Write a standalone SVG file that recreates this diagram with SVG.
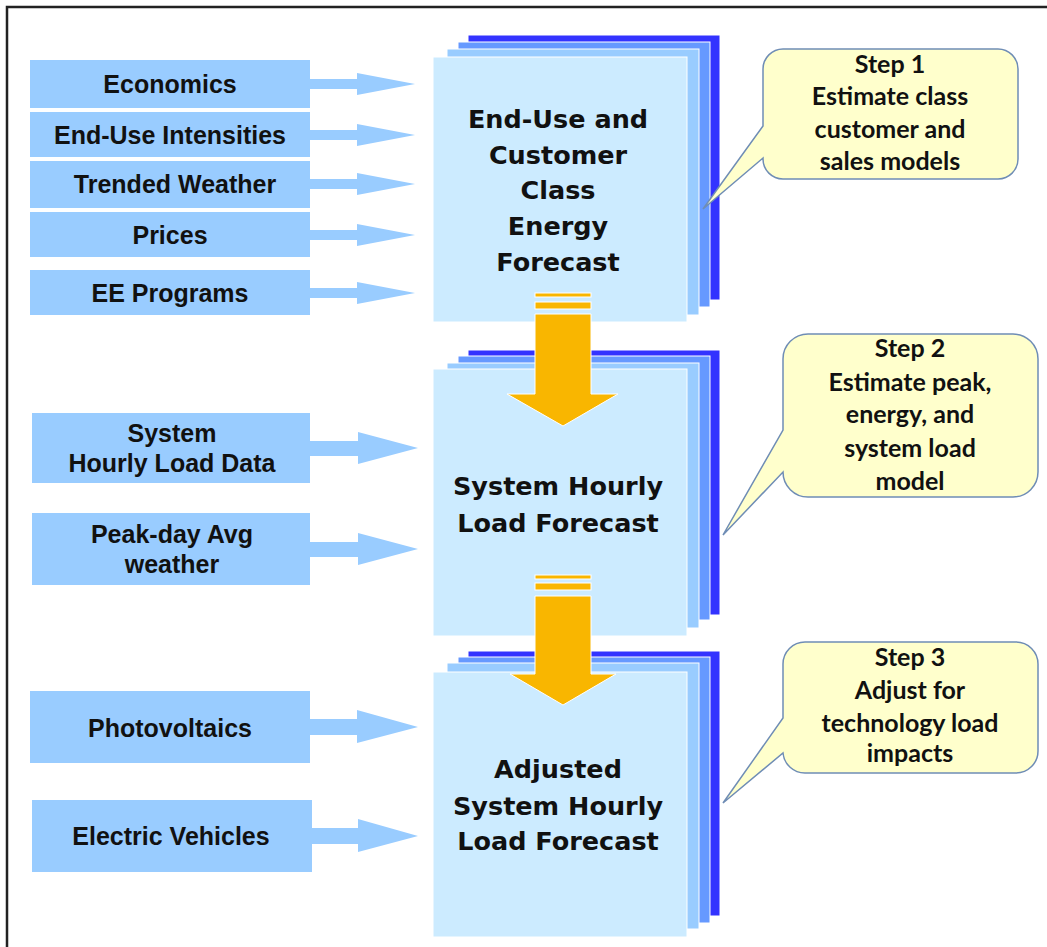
<svg xmlns="http://www.w3.org/2000/svg" width="1047" height="947" viewBox="0 0 1047 947">
<style>
.in{fill:#99CCFF}
.inT{font-family:"Liberation Sans",Arial,sans-serif;font-weight:bold;font-size:25px;fill:#111;text-anchor:middle}
.l0{fill:#CCEBFF;stroke:#fff;stroke-width:1}
.l1{fill:#99CCFF;stroke:#fff;stroke-width:1}
.l2{fill:#6699FF;stroke:#fff;stroke-width:1}
.l3{fill:#3333FF;stroke:#fff;stroke-width:1}
.mT{font-family:"DejaVu Sans",Verdana,sans-serif;font-weight:bold;font-size:25.5px;fill:#111;text-anchor:middle}
.or{fill:#F9B600;stroke:#fff;stroke-width:1}
.co{fill:#FFFFCC;stroke:#6F8DB5;stroke-width:1.5}
.cT{font-family:Lato,"Open Sans",sans-serif;font-weight:bold;font-size:25px;fill:#111;text-anchor:middle}
</style>
<rect x="0" y="0" width="1047" height="947" fill="#fff"/>
<rect x="7" y="7" width="1100" height="1000" fill="none" stroke="#222" stroke-width="2.5"/>

<g id="connectors">
  <polygon class="in" points="309,79 357,79 357,73 415,84 357,95 357,89 309,89"/>
  <polygon class="in" points="309,130 357,130 357,124 415,135 357,146 357,140 309,140"/>
  <polygon class="in" points="309,179 357,179 357,173 415,184 357,195 357,189 309,189"/>
  <polygon class="in" points="309,230 357,230 357,224 415,235 357,246 357,240 309,240"/>
  <polygon class="in" points="309,288 357,288 357,282 415,293 357,304 357,298 309,298"/>
  <polygon class="in" points="309,441 358,441 358,432 418,448 358,464 358,456 309,456"/>
  <polygon class="in" points="309,542 358,542 358,533 418,549 358,565 358,557 309,557"/>
  <polygon class="in" points="309,719 357,719 357,710 418,727 357,743 357,735 309,735"/>
  <polygon class="in" points="311,828 358,828 358,819 418,836 358,852 358,844 311,844"/>
</g>

<g id="in-economics"><rect class="in" x="30" y="60" width="280" height="48"/><text class="inT" x="170" y="93">Economics</text></g>
<g id="in-enduse"><rect class="in" x="30" y="112" width="280" height="45"/><text class="inT" x="170" y="144">End-Use Intensities</text></g>
<g id="in-weather"><rect class="in" x="30" y="161" width="280" height="47"/><text class="inT" x="175" y="193">Trended Weather</text></g>
<g id="in-prices"><rect class="in" x="30" y="212" width="280" height="45"/><text class="inT" x="170" y="244">Prices</text></g>
<g id="in-ee"><rect class="in" x="30" y="270" width="280" height="45"/><text class="inT" x="170" y="302">EE Programs</text></g>
<g id="in-system"><rect class="in" x="32" y="413" width="278" height="70"/><text class="inT" x="172" y="442">System</text><text class="inT" x="172" y="472">Hourly Load Data</text></g>
<g id="in-peak"><rect class="in" x="32" y="513" width="278" height="72"/><text class="inT" x="172" y="543">Peak-day Avg</text><text class="inT" x="172" y="573">weather</text></g>
<g id="in-pv"><rect class="in" x="30" y="691" width="280" height="72"/><text class="inT" x="170" y="737">Photovoltaics</text></g>
<g id="in-ev"><rect class="in" x="32" y="800" width="280" height="72"/><text class="inT" x="171" y="845">Electric Vehicles</text></g>

<g id="box-energy">
  <rect class="l3" x="468" y="35" width="252" height="265"/>
  <rect class="l2" x="458" y="42" width="252" height="265"/>
  <rect class="l1" x="447" y="49" width="252" height="266"/>
  <rect class="l0" x="433" y="57" width="254" height="265"/>
  <text class="mT" x="558" y="128">End-Use and</text>
  <text class="mT" x="558" y="164">Customer</text>
  <text class="mT" x="558" y="199">Class</text>
  <text class="mT" x="558" y="235">Energy</text>
  <text class="mT" x="558" y="271">Forecast</text>
</g>

<g id="box-hourly">
  <rect class="l3" x="468" y="350" width="252" height="265"/>
  <rect class="l2" x="458" y="356" width="252" height="264"/>
  <rect class="l1" x="447" y="363" width="252" height="265"/>
  <rect class="l0" x="433" y="369" width="254" height="267"/>
  <text class="mT" x="558" y="495">System Hourly</text>
  <text class="mT" x="558" y="532">Load Forecast</text>
</g>

<g id="arrow-down-1">
  <rect class="or" x="535" y="293" width="56" height="4"/>
  <rect class="or" x="535" y="302" width="56" height="7"/>
  <polygon class="or" points="535,314 591,314 591,394 618,394 563,426 507,394 535,394"/>
</g>

<g id="box-adjusted">
  <rect class="l3" x="468" y="651" width="252" height="265"/>
  <rect class="l2" x="458" y="657" width="252" height="266"/>
  <rect class="l1" x="447" y="663" width="252" height="266"/>
  <rect class="l0" x="433" y="672" width="254" height="265"/>
  <text class="mT" x="558" y="778">Adjusted</text>
  <text class="mT" x="558" y="815">System Hourly</text>
  <text class="mT" x="558" y="850">Load Forecast</text>
</g>

<g id="arrow-down-2">
  <rect class="or" x="535" y="575" width="56" height="4"/>
  <rect class="or" x="535" y="583" width="56" height="7"/>
  <polygon class="or" points="535,596 591,596 591,674 616,674 563,705 510,674 535,674"/>
</g>

<g id="step1">
  <path class="co" d="M783,49 H998 A20,20 0 0 1 1018,69 V159 A20,20 0 0 1 998,179 H783 A20,20 0 0 1 763,159 V158 L703,209 L763,126 V69 A20,20 0 0 1 783,49 Z"/>
  <text class="cT" x="890" y="73">Step 1</text>
  <text class="cT" x="890" y="105">Estimate class</text>
  <text class="cT" x="890" y="138">customer and</text>
  <text class="cT" x="890" y="170">sales models</text>
</g>
<g id="step2">
  <path class="co" d="M808,334 H1013 A25,25 0 0 1 1038,359 V472 A25,25 0 0 1 1013,497 H808 A25,25 0 0 1 783,472 L723,535 L783,430 V359 A25,25 0 0 1 808,334 Z"/>
  <text class="cT" x="910" y="357">Step 2</text>
  <text class="cT" x="910" y="391">Estimate peak,</text>
  <text class="cT" x="910" y="423">energy, and</text>
  <text class="cT" x="910" y="457">system load</text>
  <text class="cT" x="910" y="490">model</text>
</g>
<g id="step3">
  <path class="co" d="M805,642 H1016 A22,22 0 0 1 1038,664 V751 A22,22 0 0 1 1016,773 H805 A22,22 0 0 1 783,753 L723,803 L783,718 V664 A22,22 0 0 1 805,642 Z"/>
  <text class="cT" x="910" y="666">Step 3</text>
  <text class="cT" x="910" y="699">Adjust for</text>
  <text class="cT" x="910" y="732">technology load</text>
  <text class="cT" x="910" y="762">impacts</text>
</g>
</svg>
